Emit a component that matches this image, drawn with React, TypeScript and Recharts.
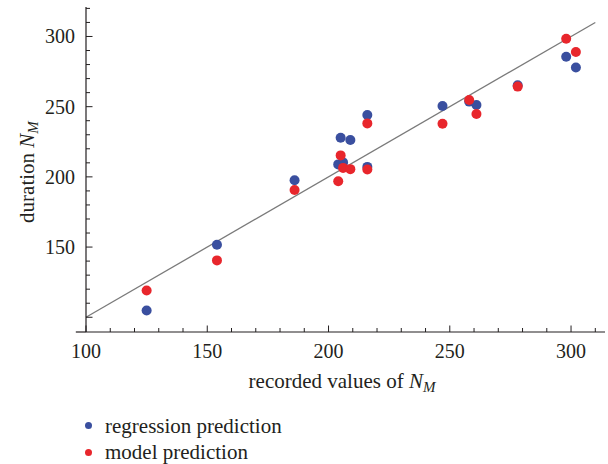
import React from 'react';
import { ScatterChart, Scatter, XAxis, YAxis, ReferenceLine, Legend, Label } from 'recharts';

// recorded N_M values and the two predictions for each
const recorded = [125, 154, 186, 204, 205, 206, 209, 216, 216, 247, 258, 261, 278, 298, 302];
const regression = [104.8, 151.7, 197.6, 208.9, 227.9, 210.3, 226.2, 244.1, 207.1, 250.5, 253.6, 251.2, 265.3, 285.5, 277.9];
const model = [119, 140.5, 190.7, 196.9, 215.3, 206.4, 205.5, 238.1, 205.3, 237.9, 254.8, 244.8, 264.3, 298.4, 288.9];

const xTicks = [100, 110, 120, 130, 140, 150, 160, 170, 180, 190, 200, 210, 220, 230, 240, 250, 260, 270, 280, 290, 300, 310];
const yTicks = [100, 110, 120, 130, 140, 150, 160, 170, 180, 190, 200, 210, 220, 230, 240, 250, 260, 270, 280, 290, 300, 310, 320];
const identity = [{ x: 100, y: 100 }, { x: 310, y: 310 }];
// small stub of the x axis left of the y axis (axes cross at 100)
const axisStub = [{ x: 95.8, y: 89.5 }, { x: 100, y: 89.5 }];

const series = [
  { name: 'regression prediction', color: '#3a4f9f', values: regression },
  { name: 'model prediction', color: '#e8262c', values: model },
];

const FONT = '"Liberation Serif", "DejaVu Serif", serif';
const INK = '#231f20';

const XTick = (props: any) => {
  const { x, y, payload } = props;
  const v = payload.value;
  const major = v % 50 === 0;
  return (
    <g>
      <line x1={x} x2={x} y1={y} y2={y - (major ? 6.5 : 4)} stroke={INK} strokeWidth={1} />
      {major && (
        <text x={x} y={y + 25.5} textAnchor="middle" fontSize={20} fontFamily={FONT} fill={INK}>{v}</text>
      )}
    </g>
  );
};

const YTick = (props: any) => {
  const { x, y, payload } = props;
  const v = payload.value;
  const major = v % 50 === 0;
  return (
    <g>
      <line x1={x} x2={x + (major ? 6.5 : 4)} y1={y} y2={y} stroke={INK} strokeWidth={1} />
      {major && v !== 100 && (
        <text x={x - 11} y={y + 7} textAnchor="end" fontSize={20} fontFamily={FONT} fill={INK}>{v}</text>
      )}
    </g>
  );
};

const XTitle = () => (
  <text x={342} y={388} textAnchor="middle" fontSize={21} fontFamily={FONT} fill={INK}>
    recorded values of <tspan fontStyle="italic">N</tspan>
    <tspan fontStyle="italic" fontSize={15} dy={4}>M</tspan>
  </text>
);

const YTitle = () => (
  <g transform="translate(33.5,172) rotate(-90)">
    <text x={0} y={0} textAnchor="middle" fontSize={21} fontFamily={FONT} fill={INK}>
      duration <tspan fontStyle="italic">N</tspan>
      <tspan fontStyle="italic" fontSize={15} dy={4}>M</tspan>
    </text>
  </g>
);

const LegendBox = () => (
  <div style={{ fontFamily: FONT, fontSize: 21, color: INK, lineHeight: '26.7px' }}>
    {series.map(s => (
      <div key={s.name} style={{ display: 'flex', alignItems: 'center', height: 26.7 }}>
        <span style={{ display: 'inline-block', width: 7, height: 7, borderRadius: '50%', background: s.color, marginLeft: 6.5 }} />
        <span style={{ marginLeft: 13.5 }}>{s.name}</span>
      </div>
    ))}
  </div>
);

export default function App() {
  return (
    <div style={{ position: 'absolute', left: 0, top: 0, background: '#fff' }}>
      <ScatterChart width={608} height={464} margin={{ top: 7, right: 3, left: 26, bottom: 92 }}>
        <XAxis
          type="number"
          dataKey="x"
          domain={[100, 314]}
          ticks={xTicks}
          interval={0}
          tickSize={0}
          tickMargin={0}
          tickLine={false}
          tick={<XTick />}
          height={40}
          axisLine={{ stroke: INK, strokeWidth: 1.2 }}
          allowDataOverflow
        >
          <Label content={<XTitle />} />
        </XAxis>
        <YAxis
          type="number"
          dataKey="y"
          domain={[89.5, 321]}
          ticks={yTicks}
          interval={0}
          tickSize={0}
          tickMargin={0}
          tickLine={false}
          tick={<YTick />}
          width={60}
          axisLine={{ stroke: INK, strokeWidth: 1.2 }}
          allowDataOverflow
        >
          <Label content={<YTitle />} />
        </YAxis>
        <ReferenceLine segment={axisStub} stroke={INK} strokeWidth={1.2} ifOverflow="visible" />
        <ReferenceLine segment={identity} stroke="#7a7a7a" strokeWidth={1.3} />
        {series.map(s => (
          <Scatter
            key={s.name}
            name={s.name}
            data={recorded.map((r, i) => ({ x: r, y: s.values[i] }))}
            fill={s.color}
            isAnimationActive={false}
            shape={(p: any) => <circle cx={p.cx} cy={p.cy} r={5} fill={s.color} />}
          />
        ))}
        <Legend
          layout="horizontal"
          align="center"
          verticalAlign="middle"
          content={<LegendBox />}
          wrapperStyle={{ position: 'absolute', left: 78, top: 412.6, width: 300 }}
        />
      </ScatterChart>
    </div>
  );
}
